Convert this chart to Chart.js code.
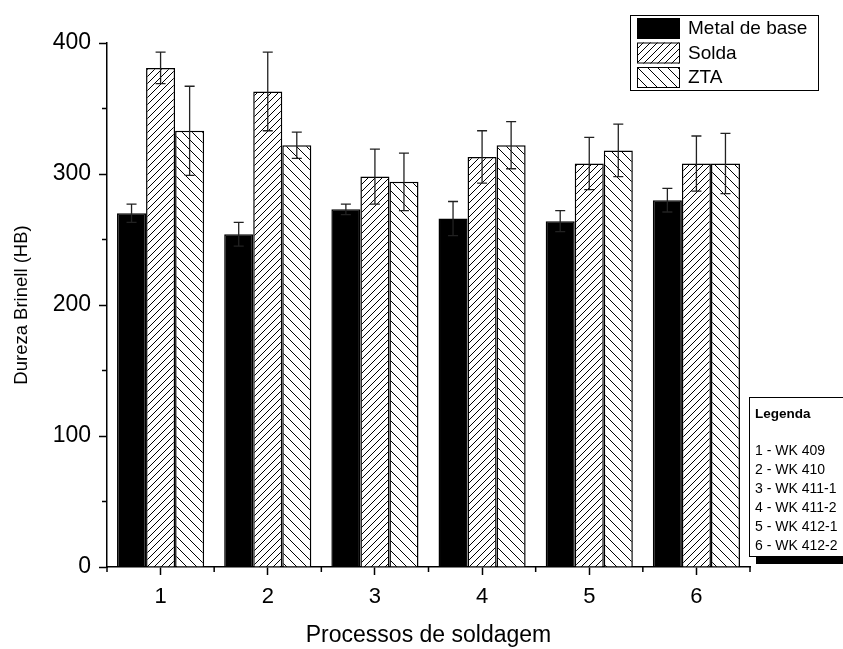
<!DOCTYPE html>
<html>
<head>
<meta charset="utf-8">
<script src="https://cdn.jsdelivr.net/npm/chart.js@4.4.0/dist/chart.umd.min.js"></script>
<style>
  body { margin: 0; background: #fff; }
  canvas { display: block; }
</style>
</head>
<body>
<canvas id="grafico" width="843" height="649"></canvas>
<script>
// Dados
const categorias = ["1", "2", "3", "4", "5", "6"];
const metalBase = [270, 254, 273, 266, 264, 280];
const metalBaseErro = [7, 9, 4, 13, 8, 9];
const solda = [381, 363, 298, 313, 308, 308];
const soldaErro = [12, 30, 21, 20, 20, 21];
const zta = [333, 322, 294, 322, 318, 308];
const ztaErro = [34, 10, 22, 18, 20, 23];
const ticksY = [0, 100, 200, 300, 400];
const legendaItens = ["1 - WK 409", "2 - WK 410", "3 - WK 411-1", "4 - WK 411-2", "5 - WK 412-1", "6 - WK 412-2"];

const FONTE = "'Liberation Sans', Arial, sans-serif";

// Hachuras
function hachura(tam, direcao) {
  const c = document.createElement("canvas");
  c.width = tam;
  c.height = tam;
  const g = c.getContext("2d");
  g.fillStyle = "#fff";
  g.fillRect(0, 0, tam, tam);
  g.strokeStyle = "#000";
  g.lineWidth = 1;
  g.beginPath();
  if (direcao === "/") {
    g.moveTo(-1, tam + 1); g.lineTo(tam + 1, -1);
    g.moveTo(-1, 1); g.lineTo(1, -1);
    g.moveTo(tam - 1, tam + 1); g.lineTo(tam + 1, tam - 1);
  } else {
    g.moveTo(-1, -1); g.lineTo(tam + 1, tam + 1);
    g.moveTo(tam - 1, -1); g.lineTo(tam + 1, 1);
    g.moveTo(-1, tam - 1); g.lineTo(1, tam + 1);
  }
  g.stroke();
  return g.createPattern(c, "repeat");
}

const padraoSolda = hachura(7, "/");
const padraoZta = hachura(10, "\\");

// Barras de erro, ticks menores e legendas
const extras = {
  id: "extras",
  afterDatasetsDraw(chart) {
    const ctx = chart.ctx;
    const y = chart.scales.y;
    ctx.save();
    ctx.strokeStyle = "#222";
    ctx.lineWidth = 1.3;
    chart.data.datasets.forEach((ds, i) => {
      const meta = chart.getDatasetMeta(i);
      meta.data.forEach((barra, j) => {
        const v = ds.data[j];
        const e = ds.erros[j];
        const yt = y.getPixelForValue(v + e);
        const yb = y.getPixelForValue(v - e);
        const x = barra.x;
        ctx.beginPath();
        ctx.moveTo(x, yt); ctx.lineTo(x, yb);
        ctx.moveTo(x - 5, yt); ctx.lineTo(x + 5, yt);
        ctx.moveTo(x - 5, yb); ctx.lineTo(x + 5, yb);
        ctx.stroke();
      });
    });
    ctx.restore();
  },
  afterDraw(chart) {
    const ctx = chart.ctx;
    const xs = chart.scales.x;
    const ys = chart.scales.y;
    ctx.save();
    ctx.strokeStyle = "#000";
    ctx.lineWidth = 1.5;
    // ticks menores em y
    ctx.beginPath();
    [50, 150, 250, 350].forEach(v => {
      const py = ys.getPixelForValue(v);
      ctx.moveTo(ys.right, py); ctx.lineTo(ys.right - 5, py);
    });
    // ticks menores em x (limites entre categorias)
    const bordas = [xs.left];
    for (let i = 0; i < categorias.length - 1; i++) {
      bordas.push((xs.getPixelForTick(i) + xs.getPixelForTick(i + 1)) / 2);
    }
    bordas.push(xs.right);
    bordas.forEach(px => {
      ctx.moveTo(px, xs.top); ctx.lineTo(px, xs.top + 5);
    });
    ctx.stroke();

    // legenda superior
    ctx.lineWidth = 1;
    ctx.fillStyle = "#fff";
    ctx.fillRect(630, 15, 188, 75);
    ctx.strokeRect(630.5, 15.5, 188, 75);
    const series = chart.data.datasets;
    series.forEach((ds, i) => {
      const top = 18 + i * 24.5;
      ctx.fillStyle = ds.backgroundColor;
      ctx.fillRect(637, top, 43, 21);
      ctx.strokeStyle = "#000";
      ctx.strokeRect(637.5, top + 0.5, 42, 20);
      ctx.fillStyle = "#000";
      ctx.font = "19px " + FONTE;
      ctx.textBaseline = "middle";
      ctx.textAlign = "left";
      ctx.fillText(ds.label, 688, top + 11);
    });

    // caixa "Legenda"
    ctx.fillStyle = "#000";
    ctx.fillRect(756, 557, 100, 7);
    ctx.fillStyle = "#fff";
    ctx.fillRect(749, 397, 100, 160);
    ctx.strokeRect(749.5, 397.5, 100, 159);
    ctx.fillStyle = "#000";
    ctx.font = "bold 13.5px " + FONTE;
    ctx.fillText("Legenda", 755, 414);
    ctx.font = "14px " + FONTE;
    legendaItens.forEach((t, i) => {
      ctx.fillText(t, 755, 451 + i * 19);
    });
    ctx.restore();
  }
};

new Chart(document.getElementById("grafico"), {
  type: "bar",
  data: {
    labels: categorias,
    datasets: [
      {
        label: "Metal de base",
        data: metalBase,
        erros: metalBaseErro,
        backgroundColor: "#000",
        borderColor: "#000",
        borderWidth: 1.5,
      },
      {
        label: "Solda",
        data: solda,
        erros: soldaErro,
        backgroundColor: padraoSolda,
        borderColor: "#000",
        borderWidth: 1.5,
      },
      {
        label: "ZTA",
        data: zta,
        erros: ztaErro,
        backgroundColor: padraoZta,
        borderColor: "#000",
        borderWidth: 1.5,
      },
    ],
  },
  options: {
    responsive: false,
    animation: false,
    layout: { padding: { top: 43, right: 93, left: 0, bottom: 0 } },
    datasets: {
      bar: { categoryPercentage: 0.813, barPercentage: 1 },
    },
    scales: {
      x: {
        afterFit: s => { s.height = 82; },
        grid: { drawOnChartArea: false, offset: false, tickLength: 8, tickColor: "#000", tickWidth: 1.5 },
        border: { color: "#000", width: 1.5 },
        ticks: { color: "#000", padding: 9, font: { family: FONTE, size: 22 } },
        title: {
          display: true,
          text: "Processos de soldagem",
          color: "#000",
          font: { family: FONTE, size: 23, lineHeight: 1 },
          padding: { top: 0, bottom: 2 },
        },
      },
      y: {
        min: 0,
        max: 400,
        afterFit: s => { s.width = 107; },
        afterBuildTicks: s => { s.ticks = ticksY.map(v => ({ value: v })); },
        grid: { drawOnChartArea: false, tickLength: 8, tickColor: "#000", tickWidth: 1.5 },
        border: { color: "#000", width: 1.5 },
        ticks: { color: "#000", padding: 8, font: { family: FONTE, size: 23 } },
        title: {
          display: true,
          text: "Dureza Brinell (HB)",
          color: "#000",
          font: { family: FONTE, size: 18.5, lineHeight: 1 },
          padding: { top: 13, bottom: 0 },
        },
      },
    },
    plugins: {
      legend: { display: false },
      tooltip: { enabled: false },
    },
  },
  plugins: [extras],
});
</script>
</body>
</html>
